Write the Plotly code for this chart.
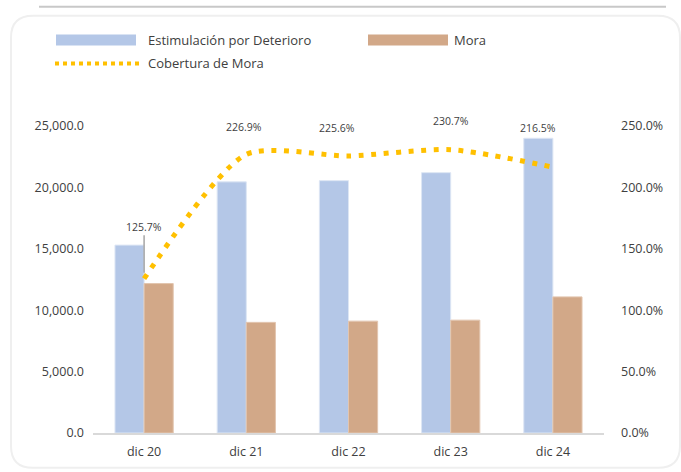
import plotly.graph_objects as go

# data
periodos = ['dic 20', 'dic 21', 'dic 22', 'dic 23', 'dic 24']
estimulacion = [15300, 20450, 20550, 21200, 24000]
mora = [12170, 9010, 9110, 9190, 11085]
cobertura = [125.7, 226.9, 225.6, 230.7, 216.5]

AZUL = '#b4c7e7'
CAFE = '#d2a888'
ORO = '#ffc000'
TXT = '#404040'
FONT = 'Open Sans'

# page geometry (pixels -> paper coords)
W, H = 681, 472
L, R, T, B = 93, 77, 126, 37
pw, ph = W - L - R, H - T - B


def px(x):
    return (x - L) / pw


def py(y):
    return (H - B - y) / ph


fig = go.Figure()

fig.add_trace(go.Bar(x=periodos, y=estimulacion, name='Estimulación por Deterioro',
                     marker=dict(color=AZUL, line=dict(color='#dde6f4', width=1))))
fig.add_trace(go.Bar(x=periodos, y=mora, name='Mora',
                     marker=dict(color=CAFE, line=dict(color='#e2c5af', width=1))))
fig.add_trace(go.Scatter(x=periodos, y=cobertura, name='Cobertura de Mora', yaxis='y2',
                         mode='lines', line=dict(color=ORO, width=5, dash='5px,7.5px',
                                                 shape='spline', smoothing=0.7)))

# data labels on the coverage line
shifts = [(0, 0), (-2, 27), (-12, 28), (0, 29), (-15, 39)]
for p, v, (dx, dy) in zip(periodos, cobertura, shifts):
    if p == periodos[0]:
        fig.add_annotation(x=p, y=v, yref='y2', text=f'{v:.1f}%', showarrow=True,
                           arrowhead=0, arrowwidth=1.5, arrowcolor='#a6a6a6',
                           ax=0, ay=-52, standoff=6,
                           font=dict(family=FONT, size=10.5, color=TXT))
    else:
        fig.add_annotation(x=p, y=v, yref='y2', text=f'{v:.1f}%', showarrow=False,
                           xshift=dx, yshift=dy,
                           font=dict(family=FONT, size=10.5, color=TXT))

# card frame and top rule
x0, y0, x1, y1, r = 11, 15, 680, 470, 22
card = (f'M {px(x0)},{py(y0 + r)} Q {px(x0)},{py(y0)} {px(x0 + r)},{py(y0)} '
        f'L {px(x1 - r)},{py(y0)} Q {px(x1)},{py(y0)} {px(x1)},{py(y0 + r)} '
        f'L {px(x1)},{py(y1 - r)} Q {px(x1)},{py(y1)} {px(x1 - r)},{py(y1)} '
        f'L {px(x0 + r)},{py(y1)} Q {px(x0)},{py(y1)} {px(x0)},{py(y1 - r)} Z')
fig.add_shape(type='path', path=card, xref='paper', yref='paper',
              line=dict(color='#efefef', width=2), layer='below')
fig.add_shape(type='line', x0=px(39), x1=px(666), y0=py(6), y1=py(6), xref='paper', yref='paper',
              line=dict(color='#c8c8c8', width=2))

# custom legend
fig.add_shape(type='rect', x0=px(56), x1=px(136), y0=py(34), y1=py(45), xref='paper', yref='paper',
              fillcolor=AZUL, line_width=0)
fig.add_shape(type='rect', x0=px(368), x1=px(448), y0=py(34), y1=py(45), xref='paper', yref='paper',
              fillcolor=CAFE, line_width=0)
fig.add_shape(type='line', x0=px(55), x1=px(139), y0=py(63), y1=py(63), xref='paper', yref='paper',
              line=dict(color=ORO, width=4, dash='4px,4px'))
for xx, yy, t in [(146, 39, 'Estimulación por Deterioro'), (452, 39, 'Mora'), (146, 63, 'Cobertura de Mora')]:
    fig.add_annotation(x=px(xx), y=py(yy), xref='paper', yref='paper', text=t, showarrow=False,
                       xanchor='left', yanchor='middle', font=dict(family=FONT, size=13, color=TXT))

fig.update_layout(
    width=W, height=H,
    margin=dict(l=L, r=R, t=T, b=B),
    paper_bgcolor='white', plot_bgcolor='rgba(0,0,0,0)',
    font=dict(family=FONT, size=12.5, color=TXT),
    showlegend=False,
    barmode='group', bargap=0.43, bargroupgap=0,
    xaxis=dict(showline=True, linecolor='#d9d9d9', linewidth=1.5, showgrid=False,
               ticks='', ticklabelstandoff=6),
    yaxis=dict(range=[0, 25000], dtick=5000, tickformat=',.1f', showgrid=False,
               zeroline=False, ticklabelstandoff=8),
    yaxis2=dict(range=[0, 250], dtick=50, tickformat='.1f', ticksuffix='%', overlaying='y',
                side='right', showgrid=False, zeroline=False, ticklabelstandoff=16),
)

# drop the default page margin so the figure sits at the window origin
fig.write_html('out.html', config={'displayModeBar': False},
               post_script="document.body.style.margin='0';")
